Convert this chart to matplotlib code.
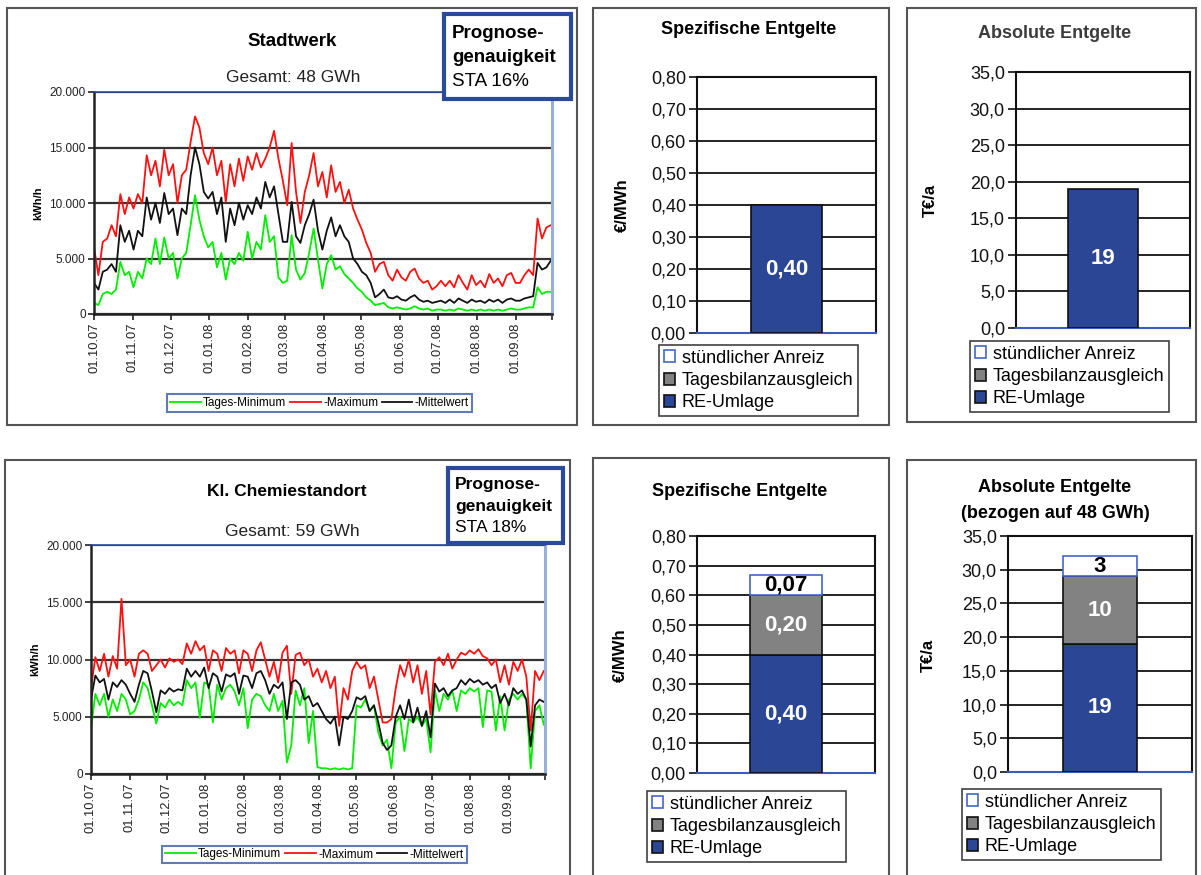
import numpy as np
import pandas as pd
import matplotlib
matplotlib.use('Agg')
import matplotlib.pyplot as plt
from matplotlib.patches import Rectangle, Patch
from matplotlib.ticker import FuncFormatter

plt.rcParams['font.family'] = ['Liberation Sans', 'DejaVu Sans']

W, H = 1201, 875

# Tageswerte alle 3,5 Tage ab 01.10.07, in 1000 kWh/h
tage = pd.date_range('2007-10-01', periods=105, freq='84h')
monate = pd.date_range('2007-10-01', '2008-09-01', freq='MS')

sw_max = [6.0, 3.5, 6.5, 6.8, 8.0, 7.0, 10.8, 9.0, 10.5,
          9.5, 10.8, 10.0, 14.3, 12.5, 13.8, 11.5, 14.8, 12.5,
          13.5, 10.0, 12.5, 13.0, 15.5, 17.8, 16.8, 14.5, 13.5,
          15.0, 12.5, 13.8, 10.1, 13.5, 11.5, 14.0, 12.0, 14.2,
          13.0, 14.5, 13.2, 14.0, 15.0, 16.5, 14.0, 12.0,
          9.8, 15.4, 11.0, 8.2, 11.0, 12.5, 14.5, 11.5, 12.8,
          10.5, 13.4, 11.0, 11.9, 10.0, 11.2, 9.5, 8.5,
          7.6, 6.4, 5.5, 3.8, 4.5, 4.7, 3.5, 3.0, 4.0,
          3.3, 3.0, 3.8, 4.1, 3.2, 2.8, 3.0, 2.2, 2.5,
          3.0, 2.5, 3.0, 2.4, 3.5, 2.8, 2.2, 3.5, 2.6,
          3.0, 2.4, 3.6, 2.8, 3.2, 2.5, 3.5, 3.7, 2.8,
          2.8, 3.5, 4.0, 3.5, 8.6, 6.8, 7.8, 8.0]
sw_mittel = [2.8, 2.2, 3.8, 4.0, 4.5, 3.8, 8.0, 6.5, 7.5,
             5.8, 7.5, 7.0, 10.5, 8.5, 10.0, 8.2, 10.9, 9.0,
             9.5, 7.1, 9.5, 9.0, 12.5, 15.0, 13.5, 11.0, 10.4,
             11.0, 9.0, 10.5, 6.5, 9.5, 8.0, 10.0, 8.5, 9.8,
             9.0, 10.5, 9.5, 11.9, 10.5, 11.5, 9.0, 6.5,
             6.5, 10.1, 7.0, 6.4, 8.0, 9.0, 10.3, 7.5, 5.8,
             7.5, 8.7, 7.0, 8.0, 7.0, 6.5, 5.0, 4.5,
             3.8, 3.5, 2.8, 1.5, 1.8, 2.2, 1.5, 1.4, 1.6,
             1.3, 1.2, 1.5, 1.7, 1.3, 1.1, 1.2, 1.0, 1.1,
             1.2, 1.0, 1.3, 1.0, 1.4, 1.2, 1.0, 1.3, 1.1,
             1.2, 1.0, 1.3, 1.1, 1.3, 1.0, 1.3, 1.4, 1.2,
             1.2, 1.4, 1.5, 1.6, 4.6, 4.0, 4.2, 4.8]
sw_min = [1.0, 0.8, 1.8, 2.0, 1.8, 2.2, 4.7, 3.5, 3.8,
          2.4, 3.8, 3.2, 5.0, 4.5, 6.8, 4.5, 6.9, 5.0,
          5.5, 3.2, 5.0, 5.5, 8.0, 10.7, 8.5, 7.0, 6.0,
          6.5, 4.2, 5.5, 3.1, 5.0, 4.5, 5.5, 4.8, 7.4,
          5.0, 6.5, 5.8, 8.9, 6.5, 7.0, 3.3, 2.8,
          3.0, 7.1, 4.0, 3.1, 3.7, 5.5, 7.7, 4.9, 2.3,
          4.5, 5.3, 4.0, 4.3, 3.6, 3.2, 2.8, 2.3,
          2.0, 1.5, 1.2, 0.8, 0.9, 1.0, 0.6, 0.5, 0.6,
          0.5, 0.4, 0.5, 0.7, 0.5, 0.4, 0.5, 0.3, 0.4,
          0.4, 0.3, 0.4, 0.3, 0.5, 0.4, 0.3, 0.4, 0.3,
          0.4, 0.3, 0.4, 0.3, 0.4, 0.3, 0.4, 0.5, 0.4,
          0.4, 0.5, 0.6, 0.6, 2.4, 1.8, 2.0, 2.0]

ch_max = [7.5, 10.2, 9.0, 10.5, 8.5, 10.3, 9.2, 15.3, 9.5,
          10.0, 8.5, 10.5, 10.8, 10.5, 9.0, 9.5, 10.0, 9.3,
          10.1, 9.8, 10.0, 9.6, 11.4, 10.5, 11.6, 10.8, 11.2,
          9.0, 10.8, 10.5, 9.0, 11.0, 10.5, 10.8, 8.8, 10.8,
          10.5, 9.0, 10.8, 11.5, 10.0, 8.5, 9.8, 8.0,
          10.6, 11.2, 7.0, 10.4, 10.6, 9.5, 10.0, 8.5, 9.2,
          8.0, 9.0, 7.5, 8.5, 4.2, 7.5, 6.5, 9.0,
          9.8, 9.2, 9.5, 7.5, 8.5, 6.5, 4.5, 4.5, 4.8,
          7.5, 9.5, 8.5, 10.0, 8.0, 9.5, 7.0, 9.0, 5.2,
          9.8, 10.2, 9.5, 10.5, 9.2, 10.0, 10.6, 10.4, 10.8,
          10.5, 10.9, 10.3, 10.1, 9.5, 10.0, 8.0, 9.5, 7.8,
          9.8, 9.0, 10.0, 8.5, 3.8, 9.0, 8.2, 9.0]
ch_mittel = [6.5, 8.6, 8.0, 8.3, 6.5, 8.0, 7.6, 8.2, 7.8,
             7.0, 6.3, 7.8, 9.0, 8.8, 7.2, 5.4, 7.3, 7.0,
             7.5, 7.2, 7.4, 7.3, 9.2, 8.5, 9.0, 8.5, 9.3,
             7.5, 8.8, 8.5, 7.2, 8.7, 8.5, 8.8, 7.0, 8.6,
             8.5, 7.5, 8.8, 9.0, 8.2, 7.0, 7.8, 7.5,
             8.0, 4.8, 8.0, 8.2, 7.8, 6.5, 6.8, 5.9, 6.2,
             5.5, 4.8, 4.4, 5.0, 2.5, 5.0, 4.8, 5.5,
             6.7, 6.5, 6.8, 5.5, 6.0, 4.5, 2.7, 2.1, 2.5,
             5.0, 6.0, 4.8, 6.5, 4.5, 5.8, 4.2, 5.5, 3.2,
             7.9, 7.2, 7.5, 6.8, 7.3, 7.5, 8.2, 7.8, 8.3,
             8.0, 8.2, 7.8, 8.0, 7.5, 7.8, 6.2, 7.0, 6.0,
             7.5, 7.0, 7.3, 6.5, 2.4, 6.0, 6.5, 6.3]
ch_min = [4.0, 7.0, 6.0, 7.0, 5.0, 6.5, 5.5, 7.0, 6.5,
          5.2, 5.5, 6.5, 8.0, 7.5, 6.0, 4.4, 6.2, 5.8,
          6.5, 6.0, 6.3, 6.0, 8.2, 7.5, 8.0, 4.9, 8.0,
          7.8, 4.5, 7.8, 6.5, 7.5, 7.8, 7.2, 6.0, 7.5,
          4.0, 6.5, 7.0, 6.8, 6.0, 5.5, 7.0, 5.5,
          6.4, 1.0, 2.5, 7.3, 6.0, 7.5, 2.7, 5.5, 0.6,
          0.5, 0.5, 0.4, 0.5, 0.4, 0.5, 0.4, 0.5,
          6.0, 5.8, 6.5, 5.5, 6.0, 3.6, 2.5, 3.0, 0.5,
          4.5, 5.0, 2.0, 4.8, 4.5, 5.0, 4.2, 4.8, 1.9,
          7.3, 5.5, 7.0, 6.5, 7.3, 5.5, 7.3, 7.0, 7.5,
          7.2, 7.5, 4.1, 7.3, 7.2, 3.8, 6.8, 3.8, 6.5,
          7.0, 6.5, 7.0, 6.5, 0.5, 5.5, 6.0, 4.3]

# Entgelte: RE-Umlage, Tagesbilanzausgleich, stündlicher Anreiz
komponenten = ['RE-Umlage', 'Tagesbilanzausgleich', 'stündlicher Anreiz']
sw_spez = [0.40, 0.0, 0.0]
sw_abs = [19, 0, 0]
ch_spez = [0.40, 0.20, 0.07]
ch_abs = [19, 10, 3]

BLAU = '#2c4696'
GRAU = '#828282'

fig = plt.figure(figsize=(W / 100, H / 100), dpi=100)


def px(x0, y0, x1, y1):
    return [x0 / W, 1 - y1 / H, (x1 - x0) / W, (y1 - y0) / H]


def rahmen(x0, y0, x1, y1, farbe='#555555', lw=1.5, fill=False, z=1):
    fig.add_artist(Rectangle((x0 / W, 1 - y1 / H), (x1 - x0) / W, (y1 - y0) / H,
                             transform=fig.transFigure, fill=fill, fc='white',
                             ec=farbe, lw=lw, zorder=z))


def text(x, y, s, **kw):
    fig.text(x / W, 1 - y / H, s, **kw)


def lastgang(rect, mn, mx, mw, leg_rect):
    ax = fig.add_axes(px(*rect))
    ax.plot(tage, np.array(mn) * 1000, color='#00ee00', lw=1.3, label='Tages-Minimum')
    ax.plot(tage, np.array(mx) * 1000, color='#ff1010', lw=1.3, label='-Maximum')
    ax.plot(tage, np.array(mw) * 1000, color='#111111', lw=1.3, label='-Mittelwert')
    ax.set_ylim(0, 20000)
    ax.set_xlim(pd.Timestamp('2007-10-01'), pd.Timestamp('2008-09-30'))
    ax.set_yticks([0, 5000, 10000, 15000, 20000])
    ax.yaxis.set_major_formatter(FuncFormatter(lambda v, p: f'{v:,.0f}'.replace(',', '.')))
    ax.set_xticks(monate)
    ax.set_xticklabels([d.strftime('%d.%m.%y') for d in monate], rotation=90)
    ax.set_xticks([pd.Timestamp('2008-09-30')], minor=True)
    ax.tick_params(axis='both', which='both', direction='out', length=4, width=1.2,
                   labelsize=8.5, colors='#222222', pad=2)
    ax.tick_params(axis='x', labelsize=9.3)
    ax.yaxis.grid(True, color='#333333', lw=1.6)
    ax.set_axisbelow(True)
    ax.spines['left'].set(color='#222222', lw=1.8)
    ax.spines['bottom'].set(color='#222222', lw=1.8)
    ax.spines['top'].set(color='#2b4a9b', lw=1.2)
    ax.spines['right'].set(color='#9aaedc', lw=2.2)
    ax.set_ylabel('kWh/h', fontsize=8, fontweight='bold', labelpad=4)
    leg = ax.legend(loc='center', bbox_to_anchor=px(*leg_rect), bbox_transform=fig.transFigure,
                    ncol=3, fontsize=8.5, frameon=True, fancybox=False, edgecolor='#3a5aa8',
                    handlelength=2.6, handletextpad=0.2, columnspacing=0.3, borderpad=0.25)
    leg.get_frame().set_linewidth(1.5)
    return ax


def entgelte(rect, werte, ymax, schritt, fmt, leg_xy):
    ax = fig.add_axes(px(*rect))
    farben = [BLAU, GRAU, 'white']
    kanten = ['#111111', '#111111', '#4466c8']
    textfarben = ['white', 'white', 'black']
    unten = 0
    for w, fc, ec, tc, name in zip(werte, farben, kanten, textfarben, komponenten):
        if w > 0:
            ax.bar(0, w, 0.4, bottom=unten, color=fc, edgecolor=ec, lw=1.2, zorder=3)
            ax.text(0, unten + w / 2, fmt(w), ha='center', va='center', color=tc,
                    fontsize=16, fontweight='bold', zorder=4)
        unten += w
    ax.set_xlim(-0.5, 0.5)
    ax.set_ylim(0, ymax)
    ticks = np.arange(0, ymax + schritt / 2, schritt)
    ax.set_yticks(ticks)
    ax.yaxis.set_major_formatter(FuncFormatter(lambda v, p: fmt(v, stellen=True)))
    ax.set_xticks([])
    ax.tick_params(axis='y', direction='out', length=6, width=1.2, labelsize=13,
                   colors='#111111', pad=2)
    ax.yaxis.grid(True, color='#111111', lw=1.3)
    ax.set_axisbelow(True)
    for s in ['left', 'top', 'right']:
        ax.spines[s].set(color='#111111', lw=1.5)
    ax.spines['bottom'].set(color='#3a5cc0', lw=1.5)
    handles = [Patch(fc='white', ec='#4466c8', lw=1.2),
               Patch(fc=GRAU, ec='#111111', lw=1.2),
               Patch(fc=BLAU, ec='#111111', lw=1.2)]
    leg = ax.legend(handles, komponenten[::-1], loc='upper left',
                    bbox_to_anchor=(leg_xy[0] / W, 1 - leg_xy[1] / H),
                    bbox_transform=fig.transFigure, fontsize=13, frameon=True,
                    fancybox=False, edgecolor='#111111', handlelength=0.65,
                    handleheight=0.65, handletextpad=0.35, labelspacing=0.3,
                    borderpad=0.25, borderaxespad=0)
    leg.get_frame().set_linewidth(1.2)
    return ax


def spez_fmt(v, stellen=False):
    return f'{v:.2f}'.replace('.', ',')


def abs_fmt(v, stellen=False):
    return f'{v:.1f}'.replace('.', ',') if stellen else f'{v:.0f}'


# Rahmen der sechs Teilbilder
rahmen(7, 8, 577, 425)
rahmen(593, 8, 889, 425)
rahmen(907, 8, 1196, 422)
rahmen(5, 460, 570, 880)
rahmen(593, 458, 889, 880)
rahmen(907, 460, 1196, 880)

# Lastgänge
lastgang((94, 92, 552, 314), sw_min, sw_max, sw_mittel, (175, 393, 464, 413))
text(292, 42, 'Stadtwerk', fontsize=13.5, fontweight='bold', ha='center', va='center')
text(293, 77, 'Gesamt: 48 GWh', fontsize=12.5, ha='center', va='center', color='#222222')
rahmen(444, 14, 571, 99, farbe='#2b4a9b', lw=3, fill=True, z=5)
text(452, 33, 'Prognose-', fontsize=13.5, fontweight='bold', va='center', zorder=6)
text(452, 57, 'genauigkeit', fontsize=13.5, fontweight='bold', va='center', zorder=6)
text(452, 82, 'STA 16%', fontsize=13.5, va='center', zorder=6)

lastgang((91, 545, 545, 774), ch_min, ch_max, ch_mittel, (172, 844, 457, 865))
text(287, 492, 'Kl. Chemiestandort', fontsize=12.5, fontweight='bold', ha='center', va='center')
text(292, 532, 'Gesamt: 59 GWh', fontsize=12.5, ha='center', va='center', color='#222222')
rahmen(448, 468, 563, 543, farbe='#2b4a9b', lw=3, fill=True, z=5)
text(455, 484, 'Prognose-', fontsize=12.5, fontweight='bold', va='center', zorder=6)
text(455, 506, 'genauigkeit', fontsize=12.5, fontweight='bold', va='center', zorder=6)
text(455, 528, 'STA 18%', fontsize=12.5, va='center', zorder=6)

# Entgelte
entgelte((697, 77, 876, 333), sw_spez, 0.8, 0.1, spez_fmt, (659, 345))
text(749, 29, 'Spezifische Entgelte', fontsize=13, fontweight='bold', ha='center', va='center')
text(622, 205, '€/MWh', fontsize=12, fontweight='bold', rotation=90, ha='center', va='center')

entgelte((1016, 72, 1190, 328), sw_abs, 35, 5, abs_fmt, (970, 341))
text(1055, 33, 'Absolute Entgelte', fontsize=13, fontweight='bold', ha='center', va='center',
     color='#3c3c3c')
text(930, 200, 'T€/a', fontsize=12, fontweight='bold', rotation=90, ha='center', va='center')

entgelte((697, 536, 875, 773), ch_spez, 0.8, 0.1, spez_fmt, (647, 791))
text(740, 492, 'Spezifische Entgelte', fontsize=13, fontweight='bold', ha='center', va='center')
text(620, 655, '€/MWh', fontsize=12, fontweight='bold', rotation=90, ha='center', va='center')

entgelte((1008, 536, 1192, 772), ch_abs, 35, 5, abs_fmt, (962, 789))
text(1055, 487, 'Absolute Entgelte', fontsize=13, fontweight='bold', ha='center', va='center')
text(1055, 513, '(bezogen auf 48 GWh)', fontsize=13, fontweight='bold', ha='center', va='center')
text(928, 655, 'T€/a', fontsize=12, fontweight='bold', rotation=90, ha='center', va='center')

fig.savefig('out.png', dpi=100)
